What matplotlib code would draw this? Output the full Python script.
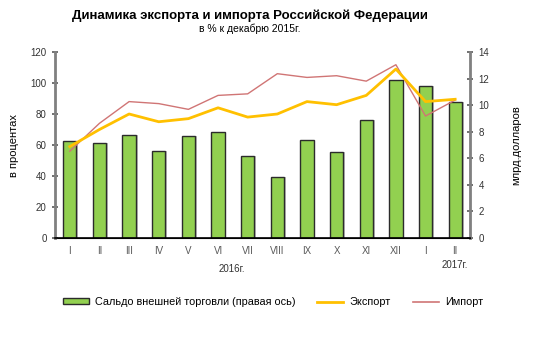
import numpy as np
import matplotlib.pyplot as plt
from matplotlib.patches import Patch
from matplotlib.lines import Line2D

plt.rcParams['font.family'] = ['Liberation Sans', 'DejaVu Sans']

# === данные ===
months = ['I', 'II', 'III', 'IV', 'V', 'VI', 'VII', 'VIII', 'IX', 'X', 'XI', 'XII', 'I', 'II']
saldo = [7.33, 7.18, 7.78, 6.57, 7.66, 8.01, 6.19, 4.61, 7.40, 6.50, 8.90, 11.86, 11.43, 10.23]  # млрд долл.
export = [59, 70, 80, 75, 77, 84, 78, 80, 88, 86, 92, 109, 88, 89.5]  # % к дек. 2015
imports = [56, 74, 88, 86.7, 83, 92, 93, 106, 103.6, 104.7, 101.2, 111.8, 78.7, 89]

x = np.arange(len(months))

fig = plt.figure(figsize=(5.33, 3.41), dpi=100)
ax = fig.add_axes([55 / 533, 103 / 341, 415 / 533, 186 / 341])
ax2 = ax.twinx()

# столбцы на правой оси
ax2.bar(x + 0.06, saldo, width=0.45, color='#bfbfbf', zorder=1)
ax2.bar(x, saldo, width=0.45, color='#92D050', edgecolor='#2b2b2b', linewidth=1.0, zorder=2)
ax2.set_ylim(0, 14)
ax2.set_yticks(np.arange(0, 15, 2))

# линии на левой оси (поверх столбцов)
ax.set_zorder(ax2.get_zorder() + 1)
ax.patch.set_visible(False)
ax.plot(x, imports, color='#D07575', lw=1.0)
ax.plot(x, export, color='#FFC000', lw=2.0)
ax.set_ylim(0, 120)
ax.set_yticks(np.arange(0, 121, 20))
ax.set_xlim(-0.5, len(months) - 0.5)
ax.set_xticks(x)
ax.set_xticklabels(months)

for a in (ax, ax2):
    a.spines['top'].set_visible(False)
    a.tick_params(labelsize=7, colors='#595959', length=5, direction='inout', width=1.2)
ax.tick_params(axis='x', length=0, pad=6)
ax.spines['left'].set_color('#808080')
ax.spines['left'].set_linewidth(2)
ax2.spines['right'].set_color('#808080')
ax2.spines['right'].set_linewidth(2)
ax.spines['bottom'].set_color('#000000')
ax.spines['bottom'].set_linewidth(1.2)
ax2.spines['left'].set_visible(False)
ax.spines['right'].set_visible(False)
for t in ax.get_yticklabels() + ax2.get_yticklabels():
    t.set_color('#333333')

ax.set_ylabel('в процентах', fontsize=8, labelpad=8)
ax2.set_ylabel('млрд.долларов', fontsize=8, labelpad=16)

fig.text(232 / 533, 1 - 269 / 341, '2016г.', fontsize=7, ha='center', va='center', color='#333333')
fig.text(455 / 533, 1 - 265 / 341, '2017г.', fontsize=7, ha='center', va='center', color='#333333')

fig.text(250 / 533, 1 - 16 / 341, 'Динамика экспорта и импорта Российской Федерации',
         fontsize=9.5, fontweight='bold', ha='center', va='center')
fig.text(250 / 533, 1 - 29 / 341, 'в % к декабрю 2015г.', fontsize=7.5, ha='center', va='center')

handles = [Patch(facecolor='#92D050', edgecolor='#2b2b2b'),
           Line2D([], [], color='#FFC000', lw=2),
           Line2D([], [], color='#D07575', lw=1.2)]
labels = ['Сальдо внешней торговли (правая ось)', 'Экспорт', 'Импорт']
fig.legend(handles, labels, loc='center', bbox_to_anchor=(273 / 533, 1 - 302 / 341), ncol=3,
           frameon=False, fontsize=7.8, handlelength=2.4, handleheight=0.5, columnspacing=2.0,
           handletextpad=0.6)

fig.savefig('out.png', dpi=100)
